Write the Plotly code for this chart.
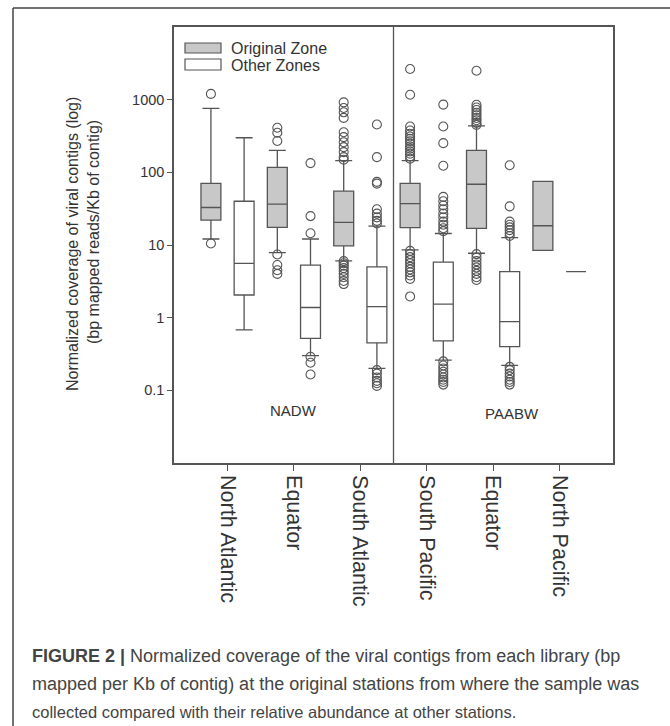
import plotly.graph_objects as go

# ---------------- data ----------------
zones = ["NADW", "NADW", "NADW", "PAABW", "PAABW", "PAABW"]
stations = ["North Atlantic", "Equator", "South Atlantic",
            "South Pacific", "Equator", "North Pacific"]
cat_ids = [f"{z} {s}" for z, s in zip(zones, stations)]

# Original Zone (grey boxes)
orig_q1 = [22, 17.5, 9.7, 17.3, 16.9, 8.45]
orig_med = [32.8, 36.5, 20.5, 37.2, 68.5, 18.4]
orig_q3 = [70.6, 117, 55, 70.6, 200, 75]
orig_lo = [12.1, 7.85, 6.04, 8.55, 7.7, 8.45]
orig_hi = [760, 200, 145, 145, 436, 75]
orig_out = [
    [1200, 10.5],
    [410, 350, 270, 7.4, 5.3, 4.5, 4.0],
    [918, 769, 670, 561, 356, 305, 260, 222, 190, 162, 149,
     6.0, 5.6, 5.2, 4.8, 4.4, 4.0, 3.6, 3.2, 2.9],
    [2640, 1170, 427, 376, 339, 311, 289, 268, 247, 227, 211, 194, 180, 166, 154,
     8.3, 7.5, 6.8, 6.2, 5.6, 5.0, 4.6, 4.2, 3.8, 3.4, 1.96],
    [2500, 850, 780, 720, 660, 610, 560, 520, 480, 450,
     7.5, 6.7, 6.0, 5.4, 4.9, 4.4, 4.0, 3.6, 3.3],
    [],
]

# Other Zones (white boxes)
oth_q1 = [2.05, 0.52, 0.45, 0.48, 0.40, 4.3]
oth_med = [5.6, 1.38, 1.42, 1.54, 0.88, 4.3]
oth_q3 = [40, 5.27, 5.0, 5.8, 4.3, 4.3]
oth_lo = [0.68, 0.30, 0.20, 0.26, 0.22, 4.3]
oth_hi = [299, 12.1, 18.2, 14.4, 12.6, 4.3]
oth_out = [
    [],
    [134, 25, 14.5, 0.29, 0.24, 0.165],
    [455, 162, 74, 70, 31, 27, 24, 21.5, 19.8,
     0.19, 0.17, 0.15, 0.135, 0.125, 0.115],
    [855, 427, 252, 123, 46, 40, 35, 31, 27, 24, 21, 19, 17, 15.5,
     0.25, 0.22, 0.2, 0.18, 0.165, 0.15, 0.14, 0.13, 0.12],
    [125, 34, 21, 19, 17.5, 16, 14.5, 13.3,
     0.21, 0.19, 0.17, 0.155, 0.14, 0.13, 0.12],
    [],
]

y_tickvals = [0.1, 1, 10, 100, 1000]
y_ticktext = ["0.1", "1", "10", "100", "1000"]
legend_names = ["Original Zone", "Other Zones"]

# ---------------- layout helpers ----------------
W, H = 670, 726
L, R, T, B = 174, 613, 27, 463
def px(x):
    return (x - L) / (R - L)
def py(y):
    return (B - y) / (B - T)

LINE = "#555555"
GREY = "#c8c8c8"
FONT = "Liberation Sans, Arial, sans-serif"

fig = go.Figure()
for grp, name, q1, med, q3, lo, hi, out, fill in [
    ("orig", legend_names[0], orig_q1, orig_med, orig_q3, orig_lo, orig_hi, orig_out, GREY),
    ("oth", legend_names[1], oth_q1, oth_med, oth_q3, oth_lo, oth_hi, oth_out, "white"),
]:
    fig.add_trace(go.Box(
        name=name, x=cat_ids, offsetgroup=grp,
        q1=q1, median=med, q3=q3, lowerfence=lo, upperfence=hi,
        boxpoints=False,
        fillcolor=fill, line=dict(color=LINE, width=1.3),
        whiskerwidth=0.85,
        showlegend=False, hoverinfo="skip",
    ))
    xs, ys = [], []
    for c, vals in zip(cat_ids, out):
        for v in vals:
            xs.append(c)
            ys.append(v)
    fig.add_trace(go.Scatter(
        x=xs, y=ys, mode="markers", offsetgroup=grp, name=name + " outliers",
        marker=dict(symbol="circle-open", size=9, color=LINE,
                    line=dict(width=1.1, color=LINE)),
        showlegend=False, hoverinfo="skip",
    ))

shapes = [
    # divider between water masses
    dict(type="line", xref="x", yref="paper", x0=2.5, x1=2.5, y0=0, y1=1,
         line=dict(color=LINE, width=1.3)),
    # outer figure frame (left and top)
    dict(type="line", xref="paper", yref="paper", x0=px(13), x1=px(13),
         y0=py(8), y1=py(740), line=dict(color="#444", width=1.5)),
    dict(type="line", xref="paper", yref="paper", x0=px(13), x1=px(690),
         y0=py(8), y1=py(8), line=dict(color="#444", width=1.5)),
    # legend swatches
    dict(type="rect", xref="paper", yref="paper", x0=px(185), x1=px(221),
         y0=py(53), y1=py(43), fillcolor=GREY, line=dict(color=LINE, width=1.2)),
    dict(type="rect", xref="paper", yref="paper", x0=px(185), x1=px(221),
         y0=py(70), y1=py(59), fillcolor="white", line=dict(color=LINE, width=1.2)),
]

ann = [
    dict(text=legend_names[0], x=px(229), y=py(48.5), xanchor="left", yanchor="middle",
         font=dict(size=16, color="#333", family=FONT)),
    dict(text=legend_names[1], x=px(229), y=py(65), xanchor="left", yanchor="middle",
         font=dict(size=16, color="#333", family=FONT)),
    dict(text="NADW", x=px(293), y=py(410), xanchor="center", yanchor="middle",
         font=dict(size=15, color="#333", family=FONT)),
    dict(text="PAABW", x=px(512), y=py(413), xanchor="center", yanchor="middle",
         font=dict(size=15, color="#333", family=FONT)),
    dict(text="Normalized coverage of viral contigs (log)", x=px(73), y=py(244),
         textangle=-90, xanchor="center", yanchor="middle",
         font=dict(size=16, color="#333", family=FONT)),
    dict(text="(bp mapped reads/Kb of contig)", x=px(93), y=py(232),
         textangle=-90, xanchor="center", yanchor="middle",
         font=dict(size=16, color="#333", family=FONT)),
    dict(text="<b>FIGURE 2 |</b> Normalized coverage of the viral contigs from each library (bp",
         x=px(30), y=py(656), xanchor="left", yanchor="middle",
         font=dict(size=18, color="#444", family=FONT)),
    dict(text="mapped per Kb of contig) at the original stations from where the sample was",
         x=px(30), y=py(684), xanchor="left", yanchor="middle",
         font=dict(size=18, color="#444", family=FONT)),
    dict(text="collected compared with their relative abundance at other stations.",
         x=px(30), y=py(712), xanchor="left", yanchor="middle",
         font=dict(size=16.5, color="#444", family=FONT)),
]
for a in ann:
    a.update(xref="paper", yref="paper", showarrow=False)

fig.update_layout(
    width=W, height=H,
    margin=dict(l=L, r=W - R, t=T, b=H - B, pad=0),
    paper_bgcolor="white", plot_bgcolor="white",
    boxmode="group", boxgap=0, boxgroupgap=0.4,
    scattermode="group", scattergap=0,
    shapes=shapes, annotations=ann,
    font=dict(family=FONT, color="#333"),
)
fig.update_xaxes(
    type="category", categoryorder="array", categoryarray=cat_ids,
    tickvals=cat_ids, ticktext=stations, tickangle=90,
    range=[-0.806, 5.806],
    showline=True, mirror=True, linecolor=LINE, linewidth=1.5,
    ticks="outside", ticklen=6, tickcolor=LINE, tickwidth=1.3,
    showgrid=False, zeroline=False,
    tickfont=dict(size=21.5, color="#333", family=FONT),
)
fig.update_yaxes(
    type="log", range=[-2, 4],
    tickvals=y_tickvals, ticktext=y_ticktext,
    showline=True, mirror=True, linecolor=LINE, linewidth=1.5,
    ticks="outside", ticklen=5, tickcolor=LINE, tickwidth=1.3,
    showgrid=False, zeroline=False,
    tickfont=dict(size=14.5, color="#333", family=FONT),
)

fig.write_html("out.html", config={"displayModeBar": False},
               post_script="document.body.style.margin='0px';")
